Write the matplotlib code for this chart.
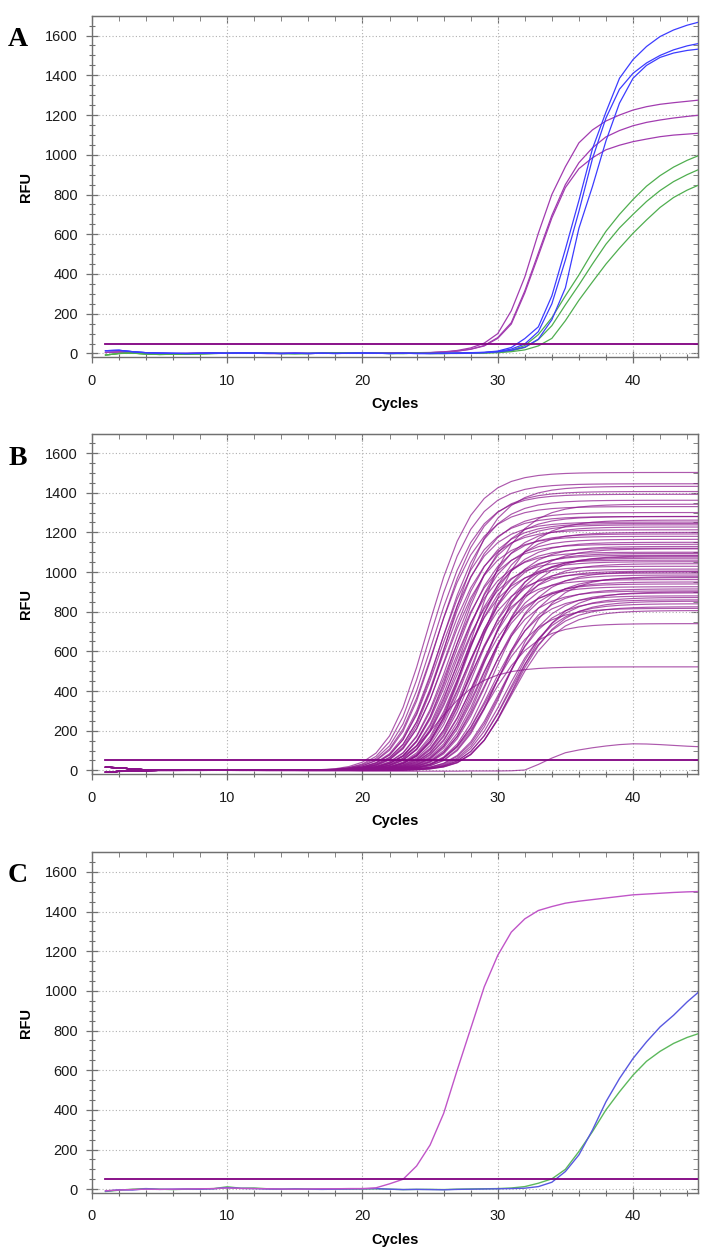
import numpy as np
import matplotlib.pyplot as plt
from matplotlib.ticker import MultipleLocator

plt.rcParams['font.family'] = ['Liberation Sans', 'DejaVu Sans']
plt.rcParams['font.size'] = 10.5

cycles = np.arange(1, 46)
threshold = 50

# ---------------- panel A ----------------
# baseline per dye, cycles 1-24
a_base_purple = [5, 8, 4, 1, 0, -1, 0, 1, 2, 1, 2, 1, 0, 0, 1, 0, 1, 2, 1, 2, 2, 3, 3, 4]
a_base_blue = [14, 16, 9, 4, 2, 1, 0, 1, 2, 1, 3, 2, 1, 0, 1, 0, 1, 0, 1, 2, 1, 0, 1, 0]
a_base_green = [-8, 0, 2, -3, -5, -4, -3, -2, 0, 1, 4, 3, 1, 0, -1, 0, 1, 2, 3, 2, 1, 0, 0, 1]

# amplification part, cycles 25-45
a_purple1 = [5, 8, 15, 28, 52, 100, 215, 385, 605, 800, 940, 1060, 1125, 1170, 1200, 1225, 1242, 1254, 1262, 1269, 1276]
a_purple2 = [4, 7, 12, 22, 40, 80, 155, 315, 505, 695, 850, 960, 1035, 1090, 1122, 1146, 1163, 1175, 1185, 1193, 1200]
a_purple3 = [4, 7, 12, 21, 38, 76, 148, 305, 492, 682, 835, 930, 985, 1025, 1048, 1066, 1079, 1091, 1099, 1104, 1109]
a_blue1 = [0, 1, 2, 4, 6, 12, 30, 75, 134, 290, 525, 770, 1030, 1215, 1385, 1479, 1545, 1595, 1628, 1652, 1670]
a_blue2 = [0, 1, 1, 3, 5, 10, 22, 48, 110, 250, 470, 715, 980, 1185, 1330, 1410, 1462, 1500, 1528, 1548, 1562]
a_blue3 = [0, 0, 1, 2, 4, 8, 16, 32, 72, 170, 330, 630, 840, 1070, 1260, 1385, 1450, 1490, 1512, 1525, 1533]
a_green1 = [0, 0, 1, 2, 4, 8, 16, 40, 95, 180, 290, 395, 510, 615, 700, 775, 842, 895, 938, 972, 1000]
a_green2 = [0, 0, 1, 1, 3, 6, 13, 30, 70, 140, 245, 345, 450, 550, 632, 700, 765, 820, 865, 900, 930]
a_green3 = [0, 0, 0, 1, 2, 4, 9, 18, 38, 76, 165, 268, 360, 450, 530, 605, 672, 735, 785, 822, 852]

# ---------------- panel B ----------------
# half-rise cycle and end plateau for each well
b_mid = [25.0, 25.2, 25.4, 25.5, 25.7, 25.8, 25.9, 26.0, 26.1, 26.2, 26.3, 26.4, 26.5, 26.6, 26.7,
         26.8, 26.9, 27.0, 27.0, 27.1, 27.2, 27.3, 27.4, 27.5, 27.6, 27.7, 27.8, 27.9, 28.0, 28.0,
         28.1, 28.2, 28.3, 28.4, 28.5, 28.6, 28.7, 28.8, 28.9, 29.0, 29.1, 29.2, 29.3, 29.4, 29.5,
         29.7, 29.8, 30.0, 30.2, 30.4, 30.6, 30.8, 30.9, 31.0, 31.1, 31.2, 31.3, 31.4, 29.6, 29.5,
         25.8]
b_plat = [1500, 1445, 1390, 1330, 1404, 1280, 1250, 1362, 1211, 1300, 1178, 1245, 1430, 1140, 1236,
          1100, 1190, 1060, 1278, 1165, 1027, 1120, 1225, 1085, 993, 1150, 1050, 1200, 960, 1094,
          1340, 1015, 1127, 926, 1068, 1005, 1260, 940, 1075, 985, 1115, 905, 1040, 950, 1080,
          880, 1000, 915, 970, 860, 893, 840, 975, 825, 870, 806, 851, 900, 815, 740,
          520]
b_base_hi = [16, 13, 7, 3, 1, 0, 1, 1, 2, 2, 3, 2, 2, 1, 1, 0, 1, 1, 2, 2, 2, 2, 2, 2, 2, 2, 2,
             2, 2, 2, 2, 2, 2, 2, 2, 2, 2, 2, 2, 2, 2, 2, 2, 2, 2]
b_base_lo = [-9, -5, -2, -1, 0, 0, 0, 1, 1, 1, 2, 1, 1, 0, 0, 0, 0, 0, 0, 0, 0, 0, 0, 0, 0, 0, 0,
             0, 0, 0, 0, 0, 0, 0, 0, 0, 0, 0, 0, 0, 0, 0, 0, 0, 0]
b_low = [-8, -6, -4, -3, -2, -2, -1, -1, 0, 0, -1, -1, -2, -2, -2, -3, -3, -3, -3, -4, -4, -4, -4,
         -4, -4, -4, -4, -3, -3, -3, -2, 2, 30, 62, 89, 103, 114, 123, 130, 134, 133, 130, 126, 122, 119]

# ---------------- panel C ----------------
c_purple = [-8, -4, -2, 0, -1, 0, 1, 2, 3, 6, 4, 3, 2, 1, 0, 1, 2, 2, 3, 3, 7, 27, 50, 117, 223,
            382, 600, 810, 1020, 1179, 1296, 1363, 1405, 1425, 1442, 1452, 1460, 1468, 1476, 1484,
            1488, 1492, 1496, 1499, 1501]
c_blue = [-10, -3, -4, 2, -1, 0, 1, 0, 2, 8, 4, 3, 1, 0, 1, 0, -1, 0, 1, 2, 3, 0, -2, -1, -2,
          -3, -1, 0, 1, 2, 3, 5, 13, 35, 89, 173, 298, 441, 558, 659, 743, 818, 877, 944, 1003]
c_green = [-12, -5, 0, 3, 0, -2, 0, 1, 3, 12, 5, 6, 2, 0, 2, 1, 0, 0, 1, 1, 2, 0, -2, -1, -1,
           -2, 0, 1, 2, 3, 6, 13, 30, 52, 100, 190, 290, 400, 491, 575, 645, 695, 735, 765, 788]


def amp_curve(c, half, plat, k=1.8, m=1.6):
    # asymmetric sigmoid, reaches plat/2 at cycle 'half'
    c0 = half + k * np.log(2 ** (1.0 / m) - 1)
    return plat * (1.0 + np.exp(-(c - c0) / k)) ** (-m)


def style_axes(ax):
    gray = '#707070'
    ax.set_xlim(0, 44.8)
    ax.set_ylim(-18, 1698)
    ax.xaxis.set_major_locator(MultipleLocator(10))
    ax.xaxis.set_minor_locator(MultipleLocator(2))
    ax.yaxis.set_major_locator(MultipleLocator(200))
    ax.yaxis.set_minor_locator(MultipleLocator(50))
    ax.grid(True, which='major', linestyle=(0, (1, 2)), color='#b0b0b0', linewidth=0.8)
    ax.set_axisbelow(True)
    for s in ax.spines.values():
        s.set_color(gray)
        s.set_linewidth(1.0)
    ax.tick_params(which='major', direction='inout', length=8, width=0.9, color=gray,
                   labelcolor='#1a1a1a', labelsize=10.5)
    ax.tick_params(axis='y', which='major', pad=6)
    ax.tick_params(axis='x', which='major', pad=8)
    ax.tick_params(which='minor', direction='inout', length=4.5, width=0.8, color=gray)
    # inward ticks on top and right
    sx = ax.secondary_xaxis('top')
    sx.xaxis.set_major_locator(MultipleLocator(10))
    sx.xaxis.set_minor_locator(MultipleLocator(2))
    sx.tick_params(which='both', direction='in', color=gray, labeltop=False, labelbottom=False)
    sx.tick_params(which='major', length=5)
    sx.tick_params(which='minor', length=3.5)
    sy = ax.secondary_yaxis('right')
    sy.yaxis.set_major_locator(MultipleLocator(200))
    sy.yaxis.set_minor_locator(MultipleLocator(50))
    sy.tick_params(which='both', direction='in', color=gray, labelright=False, labelleft=False)
    sy.tick_params(which='major', length=5)
    sy.tick_params(which='minor', length=3.5)
    for s in list(sx.spines.values()) + list(sy.spines.values()):
        s.set_color(gray)
    ax.set_xlabel('Cycles', fontweight='bold', fontsize=10.5, labelpad=7)
    ax.set_ylabel('RFU', fontweight='bold', fontsize=10.5, labelpad=9)
    ax.plot([1, 45], [threshold, threshold], color='#800080', lw=1.3, zorder=5)


fig = plt.figure(figsize=(7.08, 12.55), dpi=100)
axA = fig.add_axes([0.1299, 0.7155, 0.8559, 0.2717])
axB = fig.add_axes([0.1299, 0.3833, 0.8559, 0.2712])
axC = fig.add_axes([0.1299, 0.0496, 0.8559, 0.2712])

# panel A
for rise in [a_purple1, a_purple2, a_purple3]:
    axA.plot(cycles, a_base_purple + rise, color='#a23cb0', lw=0.9, zorder=3)
for rise in [a_green1, a_green2, a_green3]:
    axA.plot(cycles, a_base_green + rise, color='#4fae4f', lw=0.9, zorder=3)
for rise in [a_blue1, a_blue2, a_blue3]:
    axA.plot(cycles, a_base_blue + rise, color='#3c3cff', lw=0.9, zorder=3)
style_axes(axA)

# panel B
for i in range(len(b_mid)):
    base = np.array(b_base_hi if i % 2 == 0 else b_base_lo)
    y = base + amp_curve(cycles, b_mid[i], b_plat[i])
    axB.plot(cycles, y, color='#8a128a', lw=0.85, alpha=0.7, zorder=3)
axB.plot(cycles, b_low, color='#8a128a', lw=0.85, alpha=0.7, zorder=3)
style_axes(axB)

# panel C
axC.plot(cycles, c_green, color='#5cb85c', lw=1.0, zorder=3)
axC.plot(cycles, c_blue, color='#5858e0', lw=1.0, zorder=3)
axC.plot(cycles, c_purple, color='#c055c8', lw=1.0, zorder=3)
style_axes(axC)

for letter, yp in [('A', 39), ('B', 458), ('C', 876)]:
    fig.text(18 / 708, 1 - yp / 1255, letter, family=['Liberation Serif', 'DejaVu Serif'],
             fontweight='bold', fontsize=20, ha='center', va='center')

fig.savefig('out.png', dpi=100)
